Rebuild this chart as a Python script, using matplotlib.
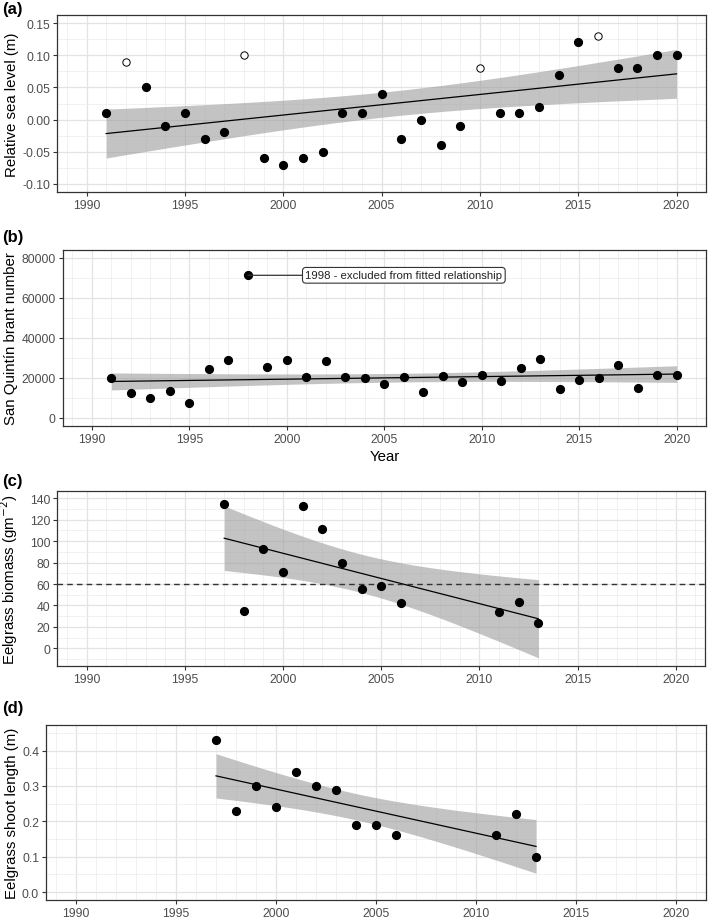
import matplotlib
matplotlib.use("Agg")
import matplotlib.pyplot as plt
import matplotlib.ticker as mticker
import matplotlib.transforms as mtrans
import numpy as np

plt.rcParams["font.family"] = ["Liberation Sans", "DejaVu Sans"]
plt.rcParams["axes.unicode_minus"] = False

# (a) relative sea level; open circles marked separately
sea_years = list(range(1991, 2021))
sea_level = [0.01, 0.09, 0.05, -0.01, 0.01, -0.03, -0.02, 0.10, -0.06, -0.07,
             -0.06, -0.05, 0.01, 0.01, 0.04, -0.03, 0.00, -0.04, -0.01, 0.08,
             0.01, 0.01, 0.02, 0.07, 0.12, 0.13, 0.08, 0.08, 0.10, 0.10]
sea_open_years = [1992, 1998, 2010, 2016]

# (b) San Quintin brant counts; 1998 excluded from the fit
brant_years = list(range(1991, 2021))
brant_count = [19700, 12300, 10100, 13300, 7600, 24400, 29000, 71200, 25200, 28900,
               20600, 28500, 20200, 19900, 16900, 20400, 13100, 20700, 18100, 21600,
               18600, 24700, 29200, 14400, 18900, 19800, 26400, 15100, 21200, 21400]
brant_excluded = [1998]
brant_note = "1998 - excluded from fitted relationship"

# (c), (d) eelgrass
eel_years = [1997, 1998, 1999, 2000, 2001, 2002, 2003, 2004, 2005, 2006, 2011, 2012, 2013]
eel_biomass = [134.4, 35.1, 92.4, 71.2, 133.1, 111.1, 79.3, 55.3, 58.4, 42.6, 33.6, 43.5, 23.3]
eel_shoot = [0.43, 0.23, 0.30, 0.24, 0.34, 0.30, 0.29, 0.19, 0.19, 0.16, 0.16, 0.22, 0.10]
biomass_threshold = 60

# two-sided 95% t quantiles by degrees of freedom
T95 = {11: 2.201, 27: 2.052, 28: 2.048}

W, H = 709, 920
fig = plt.figure(figsize=(W / 100, H / 100), dpi=100)


def add_panel(left, top, right, bottom):
    return fig.add_axes([left / W, 1 - bottom / H, (right - left) / W, (bottom - top) / H])


def fit_ci(x, y):
    x = np.asarray(x, float)
    y = np.asarray(y, float)
    n = len(x)
    slope, icpt = np.polyfit(x, y, 1)
    xs = np.linspace(x.min(), x.max(), 100)
    pred = icpt + slope * xs
    s = np.sqrt(np.sum((y - (icpt + slope * x)) ** 2) / (n - 2))
    se = s * np.sqrt(1 / n + (xs - x.mean()) ** 2 / np.sum((x - x.mean()) ** 2))
    t = T95[n - 2]
    return xs, pred, pred - t * se, pred + t * se


def style(ax, ylim, ymaj, ymin, fmt, ylabel, label_x):
    ax.set_xlim(1988.5, 2021.5)
    ax.set_ylim(*ylim)
    ax.xaxis.set_major_locator(mticker.MultipleLocator(5))
    ax.xaxis.set_minor_locator(mticker.MultipleLocator(1))
    ax.yaxis.set_major_locator(mticker.MultipleLocator(ymaj))
    ax.yaxis.set_minor_locator(mticker.MultipleLocator(ymin))
    ax.yaxis.set_major_formatter(mticker.FormatStrFormatter(fmt))
    ax.grid(which="major", color="#E3E3E3", lw=0.9)
    ax.grid(which="minor", color="#ECECEC", lw=0.5)
    ax.set_axisbelow(True)
    for sp in ax.spines.values():
        sp.set_color("#333333")
        sp.set_linewidth(0.9)
    ax.tick_params(which="major", length=3, width=0.8, color="#333333",
                   labelsize=8.8, labelcolor="#4D4D4D", pad=2)
    ax.tick_params(which="minor", length=0)
    ax.set_ylabel(ylabel, fontsize=10.8, color="black")
    tr = mtrans.blended_transform_factory(fig.transFigure, ax.transAxes)
    ax.yaxis.set_label_coords(label_x / W, 0.5, transform=tr)


def draw_fit(ax, x, y):
    xs, pred, lo, hi = fit_ci(x, y)
    ax.fill_between(xs, lo, hi, color="#999999", alpha=0.58, lw=0, zorder=2)
    ax.plot(xs, pred, color="black", lw=0.9, zorder=3)


def draw_points(ax, x, y, open_mask=None):
    x = np.asarray(x)
    y = np.asarray(y)
    if open_mask is None:
        open_mask = np.zeros(len(x), bool)
    ax.plot(x[~open_mask], y[~open_mask], "o", ms=5.6, color="black", zorder=4)
    ax.plot(x[open_mask], y[open_mask], "o", ms=5.3, mfc="white", mec="black",
            mew=0.7, zorder=4)


# (a)
ax = add_panel(57, 16, 706, 193)
draw_fit(ax, sea_years, sea_level)
draw_points(ax, sea_years, sea_level, np.isin(sea_years, sea_open_years))
style(ax, (-0.1125, 0.1625), 0.05, 0.025, "%.2f", "Relative sea level (m)", 19)

# (b)
ax = add_panel(62.7, 250.7, 706, 426.7)
keep = ~np.isin(brant_years, brant_excluded)
draw_fit(ax, np.array(brant_years)[keep], np.array(brant_count)[keep])
draw_points(ax, brant_years, brant_count)
y98 = brant_count[brant_years.index(1998)]
ax.annotate(brant_note, xy=(1998, y98), xytext=(2006, y98),
            ha="center", va="center", fontsize=8.2, color="#222222",
            bbox=dict(boxstyle="round,pad=0.25,rounding_size=0.3", fc="white",
                      ec="#333333", lw=0.8),
            arrowprops=dict(arrowstyle="-", color="#333333", lw=0.9,
                            shrinkA=0, shrinkB=0), zorder=5)
style(ax, (-4000, 84000), 20000, 10000, "%d", "San Quintín brant number", 18)
ax.set_xlabel("Year", fontsize=10.8, labelpad=3)

# (c)
ax = add_panel(57.3, 491.7, 705.3, 666.7)
draw_fit(ax, eel_years, eel_biomass)
draw_points(ax, eel_years, eel_biomass)
ax.axhline(biomass_threshold, color="#333333", lw=1.0, ls=(0, (4, 3)), zorder=3)
style(ax, (-16.2, 147.1), 20, 10, "%d", "Eelgrass biomass (gm$^{-2}$)", 20)

# (d)
ax = add_panel(46, 726, 706, 901)
draw_fit(ax, eel_years, eel_shoot)
draw_points(ax, eel_years, eel_shoot)
style(ax, (-0.0225, 0.4725), 0.1, 0.05, "%.1f", "Eelgrass shoot length (m)", 19)

for lab, ytop in zip(["(a)", "(b)", "(c)", "(d)"], [2, 230, 474, 701]):
    fig.text(2 / W, 1 - ytop / H, lab, fontsize=12, fontweight="bold", va="top", ha="left")

fig.savefig("out.png", dpi=100)
